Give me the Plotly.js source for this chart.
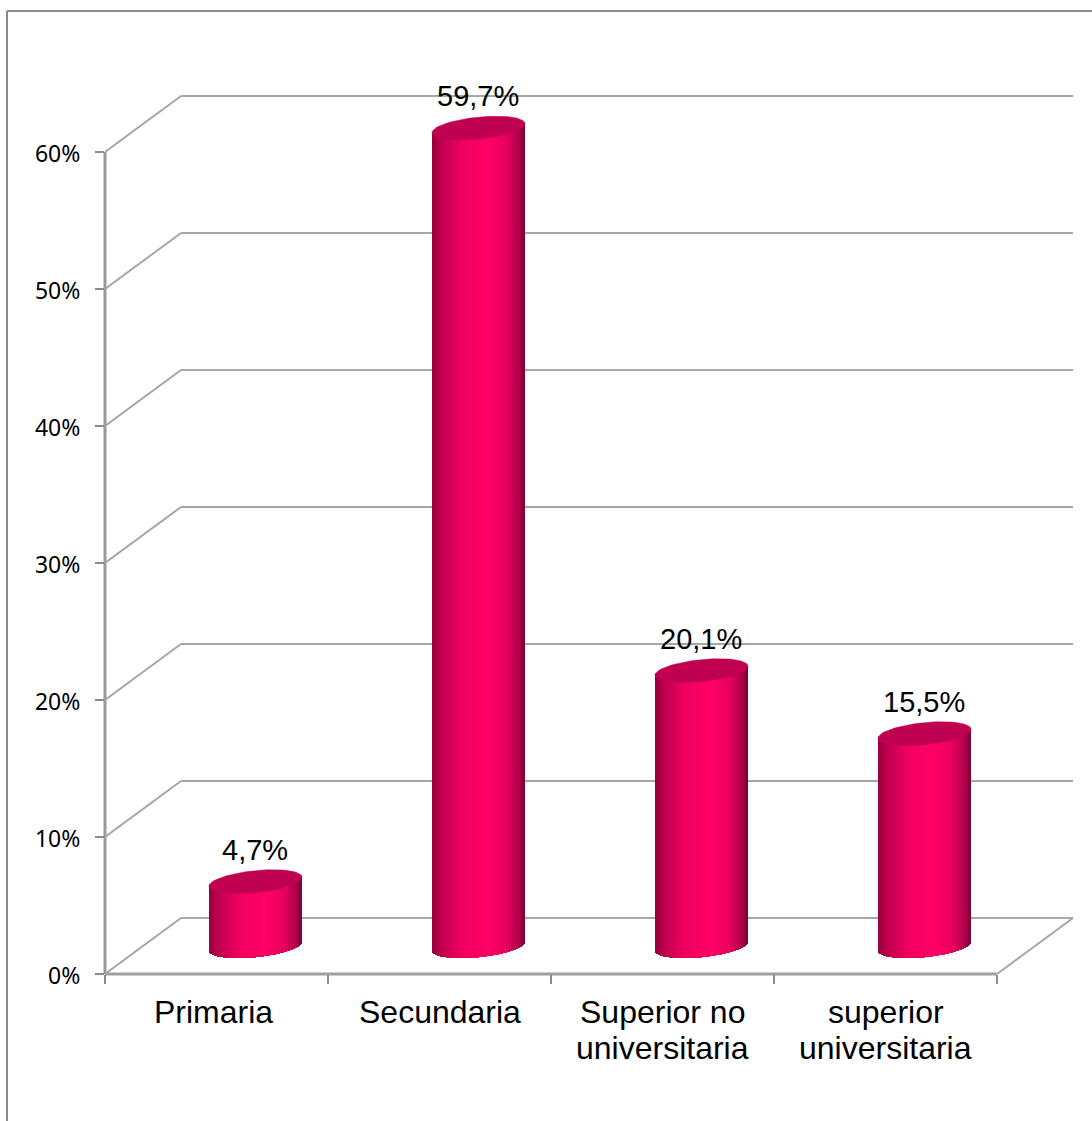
<!DOCTYPE html>
<html>
<head>
<meta charset="utf-8">
<script src="https://cdn.plot.ly/plotly-3.0.1.min.js"></script>
<style>html,body{margin:0;padding:0;background:#fff}#chart{width:1092px;height:1121px}</style>
</head>
<body>
<div id="chart"></div>
<script>
// Education level shares
const categories = ['Primaria', 'Secundaria', 'Superior no', 'superior'];
const categoriesSecondLine = ['', '', 'universitaria', 'universitaria'];
const values = [4.7, 59.7, 20.1, 15.5];
const yTicks = [0, 10, 20, 30, 40, 50, 60];

// Plot frame in pixels
const W = 1092, H = 1121;
const left = 105, right = 1082, top_ = 80, bottom = 974;
const unitX = 223, unitY = 13.7;          // pixels per category, pixels per percent
const xMax = (right - left) / unitX, yMax = (bottom - top_) / unitY;

// Oblique depth of the 3D box, in axis units
const depthX = 76 / unitX, depthY = 56 / unitY;

// Cylinder geometry in pixels
const radius = 46.5, capB = 11, capTilt = 4.5, footDrop = 0.5;

const centerX = i => i + 0.5 + depthX / 2 + 1 / unitX;
const baseY = depthY / 2;
const paperX = p => (p - left) / (right - left);
const paperY = p => (bottom - p) / (bottom - top_);

// Shading across the cylinder body
const shadeStops = [
  [0.00, [150, 0, 60]], [0.10, [190, 0, 78]], [0.32, [240, 0, 96]], [0.60, [255, 0, 102]],
  [0.80, [232, 0, 94]], [0.93, [176, 0, 72]], [1.00, [122, 0, 50]]
];
function shade(f) {
  for (let k = 1; k < shadeStops.length; k++) {
    const [f1, c1] = shadeStops[k], [f0, c0] = shadeStops[k - 1];
    if (f <= f1) {
      const m = (f - f0) / (f1 - f0);
      return 'rgb(' + c0.map((c, j) => Math.round(c + (c1[j] - c) * m)).join(',') + ')';
    }
  }
  return 'rgb(122,0,50)';
}

// Cylinder bodies as thin adjacent bars, so the shading follows the curved foot
const sliceCount = 2 * radius;
const sx = [], sy = [], sbase = [], swidth = [], scolor = [];
values.forEach((v, i) => {
  for (let k = 0; k < sliceCount; k++) {
    const u = (k + 0.5) / sliceCount * 2 - 1;
    const tilt = capTilt * u / unitY;
    const foot = baseY + tilt - (capB * Math.sqrt(1 - u * u) + footDrop) / unitY;
    const head = baseY + v + tilt;
    sx.push(centerX(i) + u * radius / unitX);
    sbase.push(foot);
    sy.push(head - foot);
    swidth.push(1 / unitX);
    scolor.push(shade((u + 1) / 2));
  }
});

const traces = [{
  type: 'bar', x: sx, y: sy, base: sbase, width: swidth,
  marker: {color: scolor, line: {width: 0}}, hoverinfo: 'skip', showlegend: false
}];

// Elliptical cap on each cylinder
values.forEach((v, i) => {
  const ex = [], ey = [];
  for (let d = 0; d <= 360; d += 5) {
    const t = d * Math.PI / 180;
    ex.push(centerX(i) + radius * Math.cos(t) / unitX);
    ey.push(baseY + v + (capB * Math.sin(t) + capTilt * Math.cos(t)) / unitY);
  }
  traces.push({
    type: 'scatter', mode: 'lines', x: ex, y: ey, fill: 'toself', fillcolor: '#c00050',
    line: {color: '#c00050', width: 0.5}, hoverinfo: 'skip', showlegend: false
  });
});

// Back wall gridlines with their oblique returns, floor edge and front axis lines
const gridColor = '#a6a6a6';
const shapes = [];
yTicks.forEach(t => {
  shapes.push({type: 'line', layer: 'below', xref: 'x', yref: 'y', x0: 0, y0: t, x1: depthX, y1: t + depthY,
    line: {color: gridColor, width: 2}});
  shapes.push({type: 'line', layer: 'below', xref: 'x', yref: 'y', x0: depthX, y0: t + depthY, x1: categories.length + depthX, y1: t + depthY,
    line: {color: gridColor, width: 2}});
});
shapes.push({type: 'line', layer: 'below', xref: 'x', yref: 'y', x0: categories.length, y0: 0, x1: categories.length + depthX, y1: depthY,
  line: {color: gridColor, width: 2}});
shapes.push({type: 'line', layer: 'below', xref: 'paper', yref: 'y', x0: 0, x1: 0, y0: 0, y1: yTicks[yTicks.length - 1],
  line: {color: '#9a9a9a', width: 3}});
shapes.push({type: 'line', layer: 'below', xref: 'x', yref: 'paper', x0: 0, x1: categories.length, y0: 0, y1: 0,
  line: {color: '#a0a0a0', width: 3}});

// Outer chart frame, open at the right and bottom
const frame = {color: '#8c8c8c', width: 2};
shapes.push({type: 'line', xref: 'paper', yref: 'paper', x0: paperX(7), x1: paperX(W), y0: paperY(11), y1: paperY(11), line: frame});
shapes.push({type: 'line', xref: 'paper', yref: 'paper', x0: paperX(7), x1: paperX(7), y0: paperY(11), y1: paperY(H), line: frame});

// Value labels above the caps
const annotations = values.map((v, i) => ({
  x: centerX(i), y: baseY + v, xref: 'x', yref: 'y', xshift: -1, yshift: 32, showarrow: false,
  xanchor: 'center', yanchor: 'middle',
  text: v.toFixed(1).replace('.', ',') + '%',
  font: {family: 'Liberation Sans, Arial, sans-serif', size: 29, color: '#000'}
}));

// Category labels, two rows under the axis
const catFont = {family: 'Liberation Sans, Arial, sans-serif', size: 32, color: '#000'};
categories.forEach((c, i) => {
  annotations.push({x: i + 0.5, y: paperY(1012), xref: 'x', yref: 'paper', showarrow: false,
    xshift: i === 0 ? -3 : 0, xanchor: 'center', yanchor: 'middle', text: c, font: catFont});
  if (categoriesSecondLine[i]) {
    annotations.push({x: i + 0.5, y: paperY(1048), xref: 'x', yref: 'paper', showarrow: false,
      xanchor: 'center', yanchor: 'middle', text: categoriesSecondLine[i], font: catFont});
  }
});

const layout = {
  width: W, height: H,
  margin: {l: left, r: W - right, t: top_, b: H - bottom, pad: 0},
  paper_bgcolor: '#fff', plot_bgcolor: 'rgba(0,0,0,0)',
  showlegend: false, barmode: 'overlay', bargap: 0,
  xaxis: {
    type: 'linear', range: [0, xMax], showgrid: false, zeroline: false, showline: false,
    tickmode: 'array', tickvals: categories.map((c, i) => i).concat(categories.length),
    showticklabels: false, ticks: 'outside', ticklen: 9, tickwidth: 2, tickcolor: '#8c8c8c'
  },
  yaxis: {
    type: 'linear', range: [0, yMax], showgrid: false, zeroline: false, showline: false,
    tickmode: 'array', tickvals: yTicks, ticktext: yTicks.map(t => t + '%'),
    ticks: 'outside', ticklen: 9, tickwidth: 2, tickcolor: '#8c8c8c',
    ticklabelstandoff: 10, ticklabelshift: 2,
    tickfont: {family: 'Noto Sans, Open Sans, sans-serif', size: 23, color: '#000'}
  },
  shapes: shapes, annotations: annotations
};

Plotly.newPlot('chart', traces, layout, {displayModeBar: false, staticPlot: true});
</script>
</body>
</html>
